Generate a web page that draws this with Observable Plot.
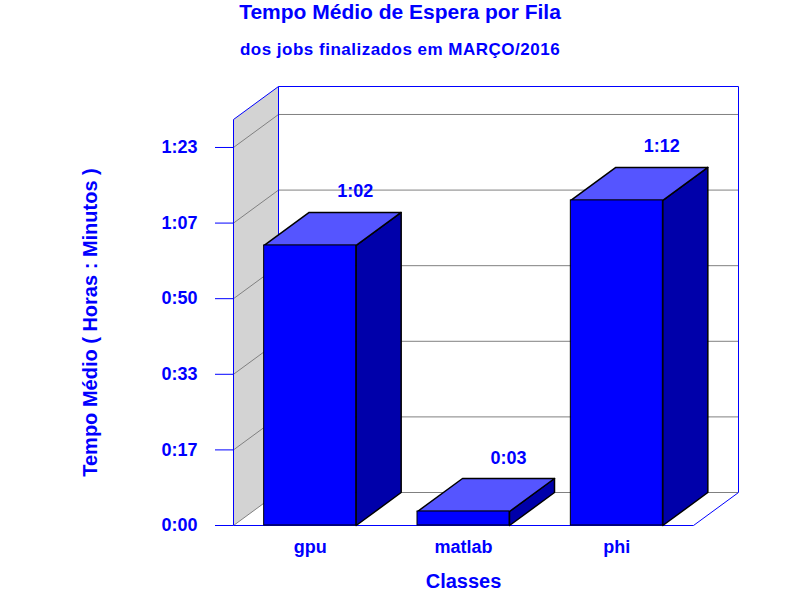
<!DOCTYPE html>
<html>
<head>
<meta charset="utf-8">
<script src="https://cdn.jsdelivr.net/npm/d3@7"></script>
<script src="https://cdn.jsdelivr.net/npm/@observablehq/plot@0.6"></script>
<style>
  html, body { margin: 0; padding: 0; background: white; }
  #wrap { position: relative; width: 800px; height: 600px; font-family: "Liberation Sans", Arial, sans-serif; font-weight: bold; color: #0000ff; }
  .t { position: absolute; left: 0; width: 800px; text-align: center; line-height: 1; white-space: nowrap; }
  #title { top: 1px; font-size: 21px; }
  #subtitle { top: 41px; font-size: 17px; letter-spacing: 0.5px; }
</style>
</head>
<body>
<div id="wrap">
  <div id="chart"></div>
  <div class="t" id="title">Tempo Médio de Espera por Fila</div>
  <div class="t" id="subtitle">dos jobs finalizados em MARÇO/2016</div>
</div>
<script>
// ---- data ----
const classes = ["gpu", "matlab", "phi"];
const tempoMedioSeg = [3704, 185, 4300];          // average wait, seconds
const yTicks = [0, 1000, 2000, 3000, 4000, 5000]; // seconds
const yMax = 5370;
const yLabel = "Tempo Médio ( Horas : Minutos )";
const xLabel = "Classes";

// ---- layout ----
const W = 800, H = 600, mL = 233, mR = 107, mT = 119, mB = 75;
const pxPerX = (W - mL - mR) / classes.length;
const pxPerY = (H - mT - mB) / yMax;
const depthX = 45 / pxPerX;   // 3D depth converted to data units
const depthY = 33 / pxPerY;
const pad = 0.2;
const n = classes.length;

const fmt = s => {
  const m = Math.round(s / 60);
  return Math.floor(m / 60) + ":" + String(m % 60).padStart(2, "0");
};

const bars = classes.map((c, i) => ({classe: c, x0: i + pad, x1: i + 1 - pad, v: tempoMedioSeg[i]}));
const topFaces = bars.flatMap(b => [
  {z: b.classe, x: b.x0, y: b.v},
  {z: b.classe, x: b.x1, y: b.v},
  {z: b.classe, x: b.x1 + depthX, y: b.v + depthY},
  {z: b.classe, x: b.x0 + depthX, y: b.v + depthY}
]);
const sideFaces = bars.flatMap(b => [
  {z: b.classe, x: b.x1, y: 0},
  {z: b.classe, x: b.x1, y: b.v},
  {z: b.classe, x: b.x1 + depthX, y: b.v + depthY},
  {z: b.classe, x: b.x1 + depthX, y: depthY}
]);
const wall = [
  {x: 0, y: 0}, {x: depthX, y: depthY}, {x: depthX, y: yMax + depthY}, {x: 0, y: yMax}
];
const frame = [
  {x1: 0, y1: 0, x2: 0, y2: yMax},
  {x1: 0, y1: yMax, x2: depthX, y2: yMax + depthY},
  {x1: depthX, y1: yMax + depthY, x2: n + depthX, y2: yMax + depthY},
  {x1: n + depthX, y1: yMax + depthY, x2: n + depthX, y2: depthY},
  {x1: n, y1: 0, x2: n + depthX, y2: depthY},
  {x1: depthX, y1: depthY, x2: depthX, y2: yMax + depthY},
  {x1: 0, y1: 0, x2: n, y2: 0}
];

const chart = Plot.plot({
  width: W, height: H,
  marginLeft: mL, marginRight: mR, marginTop: mT, marginBottom: mB,
  style: {fontFamily: "Liberation Sans, Arial, sans-serif", fontWeight: "bold", fontSize: "18px", color: "#0000ff", background: "white", overflow: "visible"},
  x: {type: "linear", domain: [0, n]},
  y: {type: "linear", domain: [0, yMax]},
  marks: [
    Plot.line(wall, {x: "x", y: "y", fill: "#d3d3d3", stroke: "none", curve: "linear-closed"}),
    Plot.ruleY(yTicks, {y: d => d + depthY, x1: depthX, x2: n + depthX, stroke: "#808080"}),
    Plot.link(yTicks, {x1: 0, y1: d => d, x2: depthX, y2: d => d + depthY, stroke: "#808080"}),
    Plot.link(frame, {x1: "x1", y1: "y1", x2: "x2", y2: "y2", stroke: "#0000ff"}),
    Plot.line(sideFaces, {x: "x", y: "y", z: "z", fill: "#0000aa", stroke: "black", curve: "linear-closed"}),
    Plot.line(topFaces, {x: "x", y: "y", z: "z", fill: "#5555ff", stroke: "black", curve: "linear-closed"}),
    Plot.rect(bars, {x1: "x0", x2: "x1", y1: 0, y2: "v", fill: "#0000ff", stroke: "black"}),
    Plot.text(bars, {x: b => (b.x0 + b.x1) / 2 + depthX, y: b => b.v + depthY, text: b => fmt(b.v), lineAnchor: "bottom", dy: -15, fill: "#0000ff", fontSize: 18, fontWeight: "bold"}),
    Plot.axisX({ticks: classes.map((c, i) => i + 0.5), tickFormat: t => classes[Math.floor(t)], tickSize: 0, tickPadding: 15, label: null, fontSize: 18}),
    Plot.axisY({ticks: yTicks, tickFormat: fmt, tickSize: 18, tickPadding: 18, label: null, fontSize: 18, stroke: "#0000ff"}),
    Plot.text([yLabel], {text: d => d, frameAnchor: "left", dx: -143, rotate: -90, textAnchor: "middle", fontSize: 20, fill: "#0000ff"}),
    Plot.text([xLabel], {text: d => d, frameAnchor: "bottom", dy: 62, lineAnchor: "bottom", fontSize: 20, fill: "#0000ff"})
  ]
});
document.getElementById("chart").appendChild(chart);
</script>
</body>
</html>
